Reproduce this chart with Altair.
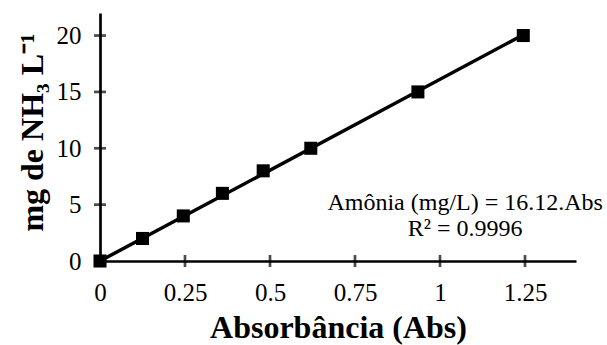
import altair as alt
import pandas as pd

# Calibration data: absorbance vs. ammonia concentration
absorbance = [0, 0.125, 0.245, 0.36, 0.48, 0.62, 0.935, 1.245]
conc = [0, 2, 4, 6, 8, 10, 15, 20]

# Fitted line: Amônia (mg/L) = 16.12 * Abs
slope = 16.12
fit_x = [0, 1.245]

x_ticks = [0, 0.25, 0.5, 0.75, 1, 1.25]
y_ticks = [0, 5, 10, 15, 20]

eq_lines = ["Amônia (mg/L) = 16.12.Abs", "R² = 0.9996"]
eq_x = [1.074, 1.074]
eq_y = [5.15, 2.8]

FONT = "Liberation Serif"
W, H = 476, 248

pts = pd.DataFrame({"x": absorbance, "y": conc})
fit = pd.DataFrame({"x": fit_x, "y": [slope * v for v in fit_x]})
xt = pd.DataFrame({"x": x_ticks})
yt = pd.DataFrame({"y": y_ticks})
eq = pd.DataFrame({"t": eq_lines, "x": eq_x, "y": eq_y})

xs = alt.Scale(domain=[0, 1.4], nice=False, zero=False)
ys = alt.Scale(domain=[0, 22], nice=False, zero=False)

x_axis = alt.Axis(values=x_ticks, labelExpr="datum.value", ticks=False, grid=False,
                  labelPadding=19, labelFontSize=25, labelFont=FONT, labelColor="black",
                  domainColor="black", domainWidth=2.7,
                  title="Absorbância (Abs)", titleFont=FONT, titleFontSize=32,
                  titleFontWeight="bold", titleColor="black",
                  titleY=76, titleBaseline="alphabetic",
                  labelFlush=False, labelOverlap=False)
y_axis = alt.Axis(values=y_ticks, ticks=False, grid=False, labelPadding=19,
                  labelFontSize=25, labelFont=FONT, labelColor="black",
                  domainColor="black", domainWidth=2.7,
                  title="mg de NH₃ L⁻¹", titleFont=FONT, titleFontSize=32,
                  titleFontWeight="bold", titleColor="black",
                  titleX=-58, titleY=119, titleBaseline="alphabetic",
                  labelFlush=False, labelOverlap=False)

line = alt.Chart(fit).mark_line(color="black", strokeWidth=3.5).encode(
    x=alt.X("x:Q", scale=xs, axis=x_axis),
    y=alt.Y("y:Q", scale=ys, axis=y_axis),
)

points = alt.Chart(pts).mark_square(size=170, color="black", opacity=1).encode(
    x=alt.X("x:Q", scale=xs), y=alt.Y("y:Q", scale=ys)
)

# Tick marks crossing the axis lines
xtick = alt.Chart(xt).mark_tick(color="black", thickness=2.7, size=12).encode(
    x=alt.X("x:Q", scale=xs), y=alt.value(H)
)
ytick = alt.Chart(yt).mark_tick(color="black", thickness=2.7, size=12).encode(
    y=alt.Y("y:Q", scale=ys), x=alt.value(0)
)

label = alt.Chart(eq).mark_text(font=FONT, fontSize=24, color="black",
                                align="center", baseline="middle").encode(
    x=alt.X("x:Q", scale=xs), y=alt.Y("y:Q", scale=ys), text="t:N"
)

chart = alt.layer(line, xtick, ytick, points, label).properties(
    width=W, height=H,
    autosize=alt.AutoSizeParams(type="none"),
    padding={"left": 100, "top": 13, "right": 31, "bottom": 84},
    background="white",
).configure_view(stroke=None)

chart.save("out.html", embed_options={"renderer": "svg", "actions": False})
